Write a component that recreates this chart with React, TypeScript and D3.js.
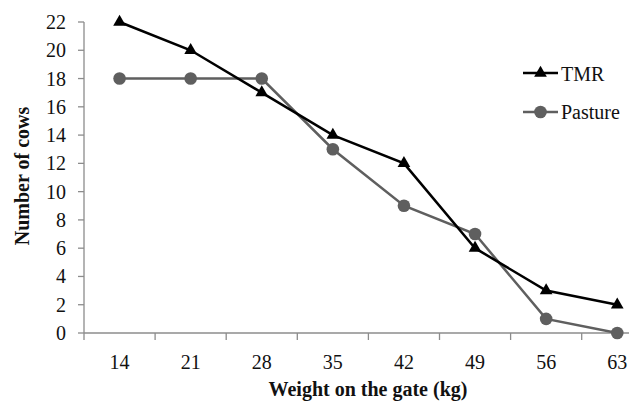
import React from "react";
import * as d3 from "d3";

const categories = ["14", "21", "28", "35", "42", "49", "56", "63"];
const tmr = [22, 20, 17, 14, 12, 6, 3, 2];
const pasture = [18, 18, 18, 13, 9, 7, 1, 0];
const yTicks = [0, 2, 4, 6, 8, 10, 12, 14, 16, 18, 20, 22];

const W = 629;
const H = 409;
const left = 84;
const bandW = 71.1;
const top = 22;
const bottom = 333;
const FONT = "Liberation Serif";

export default function App() {
  const x = d3
    .scaleBand<string>()
    .domain(categories)
    .range([left, left + bandW * categories.length])
    .padding(0);
  const y = d3.scaleLinear().domain([0, 22]).range([bottom, top]);
  const cx = (c: string) => (x(c) as number) + x.bandwidth() / 2;
  const line = d3
    .line<number>()
    .x((_, i) => cx(categories[i]))
    .y((d) => y(d));
  const tri = d3.symbol().type(d3.symbolTriangle).size(70);
  const axisColor = "#8c8c8c";
  const gray = "#5f5f5f";
  const ts = { fontFamily: FONT } as React.CSSProperties;

  return (
    <svg
      width={W}
      height={H}
      style={{ position: "absolute", left: 0, top: 0, background: "#fff" }}
    >
      {/* y axis */}
      <line x1={left} x2={left} y1={top} y2={bottom} stroke={axisColor} strokeWidth={1.3} />
      {yTicks.map((t) => (
        <g key={t}>
          <line x1={left - 6} x2={left} y1={y(t)} y2={y(t)} stroke={axisColor} strokeWidth={1.3} />
          <text style={ts} x={left - 18} y={y(t)} dy="0.35em" textAnchor="end" fontSize={20} fill="#111">
            {t}
          </text>
        </g>
      ))}
      {/* x axis */}
      <line x1={left} x2={W} y1={bottom} y2={bottom} stroke={axisColor} strokeWidth={1.3} />
      {categories.map((c) => (
        <g key={c}>
          <line x1={x(c)} x2={x(c)} y1={bottom} y2={bottom + 7} stroke={axisColor} strokeWidth={1.3} />
          <text style={ts} x={cx(c)} y={369} textAnchor="middle" fontSize={20} fill="#111">
            {c}
          </text>
        </g>
      ))}
      {/* titles */}
      <text style={ts} x={368} y={396} textAnchor="middle" fontSize={20} fontWeight="bold" fill="#111">
        Weight on the gate (kg)
      </text>
      <text
        style={ts}
        transform={`translate(29, 176) rotate(-90)`}
        textAnchor="middle"
        fontSize={20}
        fontWeight="bold"
        fill="#111"
      >
        Number of cows
      </text>
      {/* series */}
      <path d={line(pasture) || ""} fill="none" stroke={gray} strokeWidth={2.5} />
      {pasture.map((v, i) => (
        <circle key={i} cx={cx(categories[i])} cy={y(v)} r={6.3} fill={gray} />
      ))}
      <path d={line(tmr) || ""} fill="none" stroke="#000" strokeWidth={2.5} />
      {tmr.map((v, i) => (
        <path key={i} d={tri() || ""} transform={`translate(${cx(categories[i])},${y(v)})`} fill="#000" />
      ))}
      {/* legend */}
      <line x1={523} x2={558} y1={73} y2={73} stroke="#000" strokeWidth={2.5} />
      <path d={tri() || ""} transform="translate(540.5,73)" fill="#000" />
      <text style={ts} x={561} y={81} fontSize={20} fill="#111">TMR</text>
      <line x1={523} x2={558} y1={112} y2={112} stroke={gray} strokeWidth={2.5} />
      <circle cx={540.5} cy={112} r={6.3} fill={gray} />
      <text style={ts} x={561} y={119} fontSize={20} fill="#111">Pasture</text>
    </svg>
  );
}
